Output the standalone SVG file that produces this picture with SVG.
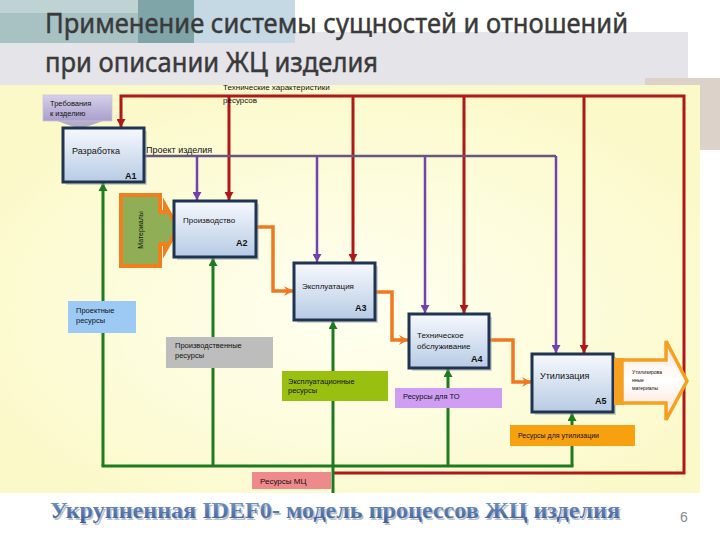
<svg xmlns="http://www.w3.org/2000/svg" width="720" height="540" viewBox="0 0 720 540">
<defs>
<radialGradient id="bgY" cx="0.5" cy="0.55" r="0.6">
<stop offset="0" stop-color="#fffff2"/>
<stop offset="1" stop-color="#fbf9c8"/>
</radialGradient>
<linearGradient id="boxG" x1="0" y1="0" x2="0" y2="1">
<stop offset="0" stop-color="#f7f9fd"/>
<stop offset="1" stop-color="#b7cbe4"/>
</linearGradient>
<linearGradient id="reqG" x1="0" y1="0" x2="0" y2="1">
<stop offset="0" stop-color="#d6d0ea"/>
<stop offset="1" stop-color="#a99fcb"/>
</linearGradient>
<linearGradient id="outG" x1="0" y1="0" x2="0" y2="1">
<stop offset="0" stop-color="#fde6d8"/>
<stop offset="0.5" stop-color="#ffffff"/>
<stop offset="1" stop-color="#fbe0cf"/>
</linearGradient>
<linearGradient id="titleG" x1="0" y1="0" x2="0" y2="1">
<stop offset="0" stop-color="#7b9ccc"/>
<stop offset="1" stop-color="#3c5e94"/>
</linearGradient>
<marker id="mR" markerUnits="userSpaceOnUse" markerWidth="9" markerHeight="9" refX="8" refY="4.5" orient="auto"><path d="M0,0 L8,4.5 L0,9 Z" fill="#b01818"/></marker>
<marker id="mP" markerUnits="userSpaceOnUse" markerWidth="9" markerHeight="9" refX="8" refY="4.5" orient="auto"><path d="M0,0 L8,4.5 L0,9 Z" fill="#7442ad"/></marker>
<marker id="mG" markerUnits="userSpaceOnUse" markerWidth="9" markerHeight="9" refX="8" refY="4.5" orient="auto"><path d="M0,0 L8,4.5 L0,9 Z" fill="#1e7b1e"/></marker>
<marker id="mO" markerUnits="userSpaceOnUse" markerWidth="10" markerHeight="10" refX="9" refY="5" orient="auto"><path d="M0,0 L9,5 L0,10 L3,5 Z" fill="#f07820"/></marker>
<style>
.box{fill:url(#boxG);stroke:#1f3352;stroke-width:3}
.sh{fill:#9aa3ad;opacity:0.45}
.t{font-family:"Liberation Sans",Arial,sans-serif;fill:#111}
.lbl{font-family:"Liberation Sans",Arial,sans-serif;font-weight:bold;font-size:9px;fill:#111}
.red{fill:none;stroke:#b01818;stroke-width:3}
.pur{fill:none;stroke:#7442ad;stroke-width:2.5}
.grn{fill:none;stroke:#1e7b1e;stroke-width:3}
.org{fill:none;stroke:#f07820;stroke-width:3.5}
.ttl{font-family:"Noto Sans",sans-serif;font-size:27px;fill:#3a3a3a;stroke:#3a3a3a;stroke-width:0.45}
</style>
</defs>

<!-- background -->
<rect x="0" y="0" width="720" height="540" fill="#ffffff"/>
<rect x="0" y="32" width="688" height="55" fill="#e4e4e9"/>
<rect x="645" y="78" width="75" height="72" fill="#dcd2ca"/>
<rect x="0" y="0" width="138" height="43" fill="#a8c2c4"/>
<rect x="0" y="0" width="138" height="13" fill="#bfd3d4"/>
<rect x="138" y="0" width="56" height="43" fill="#80a5a9"/>
<rect x="194" y="0" width="101" height="43" fill="#c4d9e3"/>
<rect x="0" y="85" width="700" height="408" fill="url(#bgY)"/>

<!-- titles -->
<text class="ttl" x="45" y="33" textLength="583" lengthAdjust="spacingAndGlyphs">Применение системы сущностей и отношений</text>
<text class="ttl" x="45" y="72" textLength="333" lengthAdjust="spacingAndGlyphs">при описании ЖЦ изделия</text>

<!-- connectors -->
<g id="connectors">
<path class="red" d="M333,473 H684 V96 H121 V127" marker-end="url(#mR)"/>
<path class="red" d="M229,96 V200" marker-end="url(#mR)"/>
<path class="red" d="M353,96 V262" marker-end="url(#mR)"/>
<path class="red" d="M464,96 V313" marker-end="url(#mR)"/>
<path class="red" d="M584,96 V353" marker-end="url(#mR)"/>
<path d="M144,156 H556" fill="none" stroke="#67567e" stroke-width="2.5"/>
<path class="pur" d="M556,156 V353" marker-end="url(#mP)"/>
<path class="pur" d="M197,156 V200" marker-end="url(#mP)"/>
<path class="pur" d="M317,156 V262" marker-end="url(#mP)"/>
<path class="pur" d="M425,156 V313" marker-end="url(#mP)"/>
<path class="grn" d="M101.5,466 H573.5"/>
<path class="grn" d="M103,466 V183" marker-end="url(#mG)"/>
<path class="grn" d="M213,466 V258" marker-end="url(#mG)"/>
<path class="grn" d="M333,493 V321" marker-end="url(#mG)"/>
<path class="grn" d="M448,466 V369" marker-end="url(#mG)"/>
<path class="grn" d="M572,466 V413" marker-end="url(#mG)"/>
<path class="org" d="M257,227 H273 V291 H293" marker-end="url(#mO)"/>
<path class="org" d="M376,292 H392 V340 H408" marker-end="url(#mO)"/>
<path class="org" d="M490,340 H513 V382 H531" marker-end="url(#mO)"/>
</g>

<!-- connector labels -->
<text class="t" x="223" y="90" font-size="8">Технические характеристики</text>
<text class="t" x="223" y="103" font-size="8">ресурсов</text>
<text class="t" x="146" y="153" font-size="9">Проект изделия</text>

<g id="req">
<polygon points="57,121 103,121 80,129" fill="#b3adc6"/>
<rect x="43" y="95" width="69" height="26" fill="url(#reqG)" stroke="#c8c2de" stroke-width="0.8"/>
<text class="t" x="50" y="106" font-size="7.5">Требования</text>
<text class="t" x="50" y="116" font-size="7.5">к изделию</text>
</g>

<g id="A1">
<rect class="sh" x="66" y="131" width="81" height="54"/>
<rect class="box" x="63" y="128" width="81" height="54"/>
<text class="t" x="72" y="154" font-size="9">Разработка</text>
<text class="lbl" x="125" y="179">A1</text>
</g>

<g id="materials">
<path d="M121,195 H160 V212 H165 V205 L178,228 L165,251 V244 H160 V266 H121 Z" fill="#8fae55" stroke="#f07f1f" stroke-width="4" stroke-linejoin="miter"/>
<text class="t" font-size="7" transform="translate(143,230) rotate(-90)" text-anchor="middle">Материалы</text>
</g>

<g id="A2">
<rect class="sh" x="177" y="204" width="82" height="56"/>
<rect class="box" x="174" y="201" width="82" height="56"/>
<text class="t" x="183" y="223" font-size="8">Производство</text>
<text class="lbl" x="236" y="246">A2</text>
</g>

<g id="A3">
<rect class="sh" x="297" y="266" width="81" height="57"/>
<rect class="box" x="294" y="263" width="81" height="57"/>
<text class="t" x="302" y="289" font-size="8">Эксплуатация</text>
<text class="lbl" x="355" y="311">A3</text>
</g>

<g id="A4">
<rect class="sh" x="412" y="317" width="80" height="54"/>
<rect class="box" x="409" y="314" width="80" height="54"/>
<text class="t" x="417" y="338" font-size="8">Техническое</text>
<text class="t" x="417" y="349" font-size="8">обслуживание</text>
<text class="lbl" x="471" y="362">A4</text>
</g>

<g id="A5">
<rect class="sh" x="535" y="357" width="81" height="58"/>
<rect class="box" x="532" y="354" width="81" height="58"/>
<text class="t" x="540" y="379" font-size="9">Утилизация</text>
<text class="lbl" x="595" y="404">A5</text>
</g>

<g id="output">
<rect x="614" y="358" width="10" height="47" fill="#f5a020"/>
<path d="M622,360 H666 V341 L687,381 L666,420 V403 H622 Z" fill="url(#outG)" stroke="#f5a020" stroke-width="3.5"/>
<text class="t" x="632" y="374" font-size="5">Утилизирова</text>
<text class="t" x="632" y="382" font-size="5">нные</text>
<text class="t" x="632" y="390" font-size="5">материалы</text>
</g>

<g id="res1">
<rect x="68" y="301" width="68" height="32" fill="#9ccaf5"/>
<text class="t" x="76" y="313" font-size="7.5">Проектные</text>
<text class="t" x="76" y="323" font-size="7.5">ресурсы</text>
</g>

<g id="res2">
<rect x="166" y="337" width="107" height="31" fill="#bdbdbd"/>
<text class="t" x="175" y="348" font-size="7.5">Производственные</text>
<text class="t" x="175" y="358" font-size="7.5">ресурсы</text>
</g>

<g id="res3">
<rect x="282" y="371" width="106" height="30" fill="#99c010"/>
<text class="t" x="288" y="384" font-size="7.5">Эксплуатационные</text>
<text class="t" x="288" y="393" font-size="7.5">ресурсы</text>
</g>

<g id="res4">
<rect x="395" y="388" width="107" height="20" fill="#cf9df2"/>
<text class="t" x="403" y="399" font-size="7.5">Ресурсы для ТО</text>
</g>

<g id="res5">
<rect x="510" y="425" width="125" height="21" fill="#f7a010"/>
<text class="t" x="518" y="438" font-size="7">Ресурсы для утилизации</text>
</g>

<g id="res6">
<rect x="252" y="472" width="79" height="17" fill="#ef8a8c"/>
<text class="t" x="260" y="484" font-size="8">Ресурсы  МЦ</text>
</g>

<!-- bottom title -->
<text x="51.5" y="519.5" font-family="'Liberation Serif',serif" font-weight="bold" font-size="24" fill="#b9c0cc" textLength="570" lengthAdjust="spacingAndGlyphs">Укрупненная IDEF0- модель процессов ЖЦ изделия</text>
<text x="50" y="518" font-family="'Liberation Serif',serif" font-weight="bold" font-size="24" fill="url(#titleG)" textLength="570" lengthAdjust="spacingAndGlyphs">Укрупненная IDEF0- модель процессов ЖЦ изделия</text>
<text x="680" y="522" font-family="'Liberation Sans',sans-serif" font-size="14" fill="#8a8a8a">6</text>
</svg>
